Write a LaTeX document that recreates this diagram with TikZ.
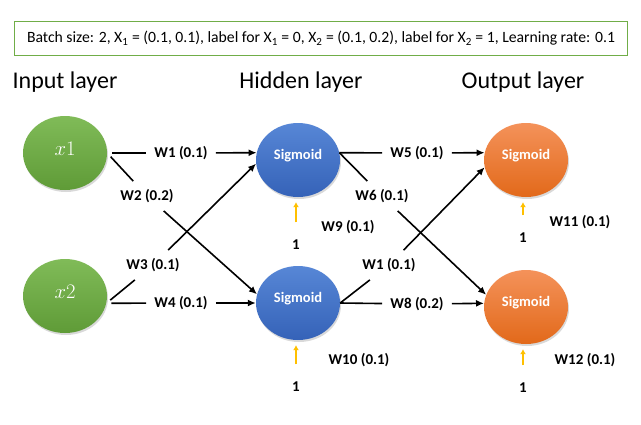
\documentclass[tikz,border=0pt]{standalone}
\usepackage{fontspec}
\setmainfont{Carlito}
\usetikzlibrary{shapes.geometric, shadows, arrows.meta}
\definecolor{boxgreen}{HTML}{70AD47}
\definecolor{greentop}{HTML}{80BB58}
\definecolor{greenbot}{HTML}{5F9B37}
\definecolor{bluetop}{HTML}{5787D6}
\definecolor{bluebot}{HTML}{3562B8}
\definecolor{orangetop}{HTML}{F4925A}
\definecolor{orangebot}{HTML}{E2691A}
\definecolor{biasgold}{HTML}{FFC000}

\begin{document}
\begin{tikzpicture}[x=1bp,y=1bp,
	neuron/.style={ellipse, minimum width=84bp, minimum height=74bp, inner sep=0pt, text=white,
		drop shadow={opacity=0.3, shadow xshift=1bp, shadow yshift=-2bp}},
	inputn/.style={neuron, top color=greentop, bottom color=greenbot, text depth=8bp,
		font=\fontsize{20bp}{22bp}\selectfont},
	hiddenn/.style={neuron, top color=bluetop, bottom color=bluebot, text depth=12bp,
		font=\bfseries\fontsize{14.5bp}{16bp}\selectfont},
	outputn/.style={neuron, top color=orangetop, bottom color=orangebot, text depth=12bp,
		font=\bfseries\fontsize{14.5bp}{16bp}\selectfont},
	layer/.style={font=\fontsize{24bp}{27bp}\selectfont},
	weight/.style={font=\bfseries\fontsize{15bp}{17bp}\selectfont, inner sep=8bp},
	wire/.style={line width=1.6bp},
	arrowwire/.style={wire, -{Latex[length=8bp,width=7bp]}},
	bias/.style={line width=1.8bp, draw=biasgold, -{Latex[length=5bp,width=6bp]},
		shorten <=9.5bp, shorten >=5bp}]
	\useasboundingbox (0,0) rectangle (641,424);

	% header and layer names
	\node[draw=boxgreen, line width=1bp, minimum width=612bp, minimum height=33bp,
		font=\fontsize{15.7bp}{18bp}\selectfont] (info) at (321,385.5)
		{Batch size: 2, X\textsubscript{1} = (0.1, 0.1), label for X\textsubscript{1} = 0, X\textsubscript{2} = (0.1, 0.2), label for X\textsubscript{2} = 1, Learning rate: 0.1};
	\node[layer] (inl) at (65,342) {Input layer};
	\node[layer] (hidl) at (301,342) {Hidden layer};
	\node[layer] (outl) at (523,342) {Output layer};

	% neurons
	\node[inputn] (x1) at (65,271) {$x1$};
	\node[inputn] (x2) at (65,128) {$x2$};
	\node[hiddenn] (h1) at (298,264) {Sigmoid};
	\node[hiddenn] (h2) at (298,121) {Sigmoid};
	\node[outputn] (o1) at (526,264) {Sigmoid};
	\node[outputn] (o2) at (526,117) {Sigmoid};

	% weights
	\node[weight] (w1) at (181,271) {W1 (0.1)};
	\node[weight] (w2) at (147,228) {W2 (0.2)};
	\node[weight] (w3) at (153,159) {W3 (0.1)};
	\node[weight] (w4) at (181,121) {W4 (0.1)};
	\node[weight] (w5) at (417,271) {W5 (0.1)};
	\node[weight] (w6) at (382,228) {W6 (0.1)};
	\node[weight] (w7) at (389,159) {W1 (0.1)};
	\node[weight] (w8) at (417,120) {W8 (0.2)};
	\node[weight] (w9) at (348,197) {W9 (0.1)};
	\node[weight] (w10) at (359,64) {W10 (0.1)};
	\node[weight] (w11) at (580,202) {W11 (0.1)};
	\node[weight] (w12) at (585,64) {W12 (0.1)};

	% bias inputs
	\node[weight] (b1) at (296,179) {1};
	\node[weight] (b2) at (296,37) {1};
	\node[weight] (b3) at (523,186) {1};
	\node[weight] (b4) at (523,36) {1};

	% input -> hidden
	\draw[wire, shorten <=5bp] (x1.east) -- (w1);
	\draw[arrowwire] (w1) -- (h1.170);
	\draw[wire, shorten <=5bp] (x1.east) -- (w2);
	\draw[arrowwire] (w2) -- (h2.168);
	\draw[wire, shorten <=5bp] (x2.-10) -- (w3);
	\draw[arrowwire] (w3) -- (h1.185);
	\draw[wire, shorten <=5bp] (x2.-10) -- (w4);
	\draw[arrowwire] (w4) -- (h2.west);

	% hidden -> output
	\draw[wire] (h1.10) -- (w5);
	\draw[arrowwire] (w5) -- (o1.170);
	\draw[wire] (h1.10) -- (w6);
	\draw[arrowwire] (w6) -- (o2.163);
	\draw[wire] (h2.east) -- (w7);
	\draw[arrowwire] (w7) -- (o1.190);
	\draw[wire] (h2.east) -- (w8);
	\draw[arrowwire] (w8) -- (o2.175);

	% bias arrows
	\draw[bias] (b1) -- (b1 |- h1.south);
	\draw[bias] (b2) -- (b2 |- h2.south);
	\draw[bias] (b3) -- (b3 |- o1.south);
	\draw[bias] (b4) -- (b4 |- o2.south);
\end{tikzpicture}
\end{document}
